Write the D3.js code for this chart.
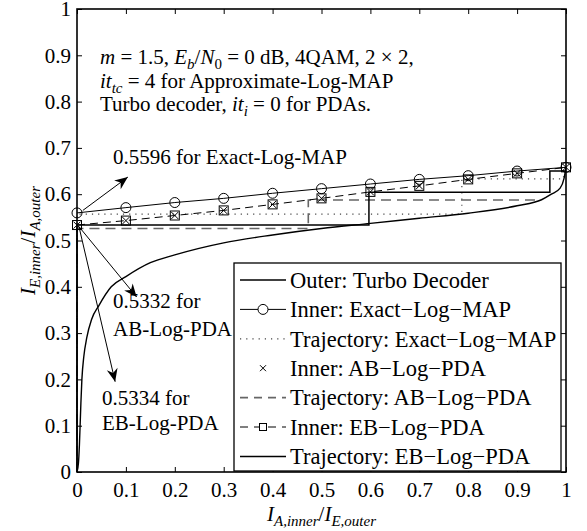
<html><head><meta charset="utf-8">
<script src="https://d3js.org/d3.v7.min.js"></script></head>
<body style="margin:0">
<svg width="587" height="531" id="exit"></svg>
<script>

// ---- data ----
var iaGrid = [0, 0.1, 0.2, 0.3, 0.4, 0.5, 0.6, 0.7, 0.8, 0.9, 1];
var innerExact = [0.5596, 0.571, 0.582, 0.591, 0.602, 0.612, 0.622, 0.632, 0.640, 0.650, 0.658];
var innerAB = [0.5332, 0.543, 0.554, 0.565, 0.578, 0.591, 0.605, 0.618, 0.632, 0.645, 0.658];
var innerEB = [0.5334, 0.543, 0.554, 0.565, 0.578, 0.591, 0.605, 0.618, 0.632, 0.645, 0.658];

// outer (turbo decoder) curve, axes swapped
var outerX = [0, 0.003, 0.005, 0.008, 0.010, 0.014, 0.020, 0.030, 0.045, 0.070, 0.10, 0.15, 0.20, 0.30, 0.40, 0.50, 0.60, 0.70, 0.80, 0.90, 0.95, 0.97, 0.988, 0.996, 1];
var outerY = [0, 0.02, 0.06, 0.15, 0.20, 0.25, 0.29, 0.33, 0.36, 0.40, 0.422, 0.452, 0.469, 0.495, 0.512, 0.526, 0.537, 0.548, 0.559, 0.575, 0.588, 0.600, 0.613, 0.634, 0.658];

// decoding trajectories (staircases)
var trajExactX = [0, 0, 0.787, 0.787, 0.995, 0.995];
var trajExactY = [0, 0.557, 0.557, 0.633, 0.633, 0.657];
var trajABX = [0, 0, 0.473, 0.473, 0.947];
var trajABY = [0, 0.526, 0.526, 0.5875, 0.5875];
var trajEBX = [0, 0, 0.597, 0.597, 0.967, 0.967, 1];
var trajEBY = [0, 0.5335, 0.5335, 0.604, 0.604, 0.650, 0.650];

var xTicks = [0, 0.1, 0.2, 0.3, 0.4, 0.5, 0.6, 0.7, 0.8, 0.9, 1];
var yTicks = [0, 0.1, 0.2, 0.3, 0.4, 0.5, 0.6, 0.7, 0.8, 0.9, 1];

var legendLabels = ["Outer: Turbo Decoder", "Inner: Exact\u2212Log\u2212MAP", "Trajectory: Exact\u2212Log\u2212MAP",
  "Inner: AB\u2212Log\u2212PDA", "Trajectory: AB\u2212Log\u2212PDA", "Inner: EB\u2212Log\u2212PDA", "Trajectory: EB\u2212Log\u2212PDA"];

// ---- layout ----
var FONT = "'Liberation Serif'";
var margin = {left: 77, top: 9, right: 21, bottom: 59};
var width = 587 - margin.left - margin.right,
    height = 531 - margin.top - margin.bottom;

var svg = d3.select("#exit");

var x = d3.scaleLinear().domain([0, 1]).range([margin.left, margin.left + width]);
var y = d3.scaleLinear().domain([0, 1]).range([margin.top + height, margin.top]);

function zip(xs, ys) { return xs.map(function(v, i) { return [v, ys[i]]; }); }

var line = d3.line().x(function(d) { return x(d[0]); }).y(function(d) { return y(d[1]); });
var smooth = d3.line().x(function(d) { return x(d[0]); }).y(function(d) { return y(d[1]); }).curve(d3.curveMonotoneX);

// arrow head (matlab-ish)
svg.append("defs").append("marker")
  .attr("id", "head")
  .attr("viewBox", "-14 -6 16 12")
  .attr("refX", 0).attr("refY", 0)
  .attr("markerWidth", 16).attr("markerHeight", 12)
  .attr("markerUnits", "userSpaceOnUse")
  .attr("orient", "auto")
  .append("path")
  .attr("d", "M0,0 L-13,-5.5 L-9,0 L-13,5.5 Z")
  .attr("fill", "#000");

// ---- trajectories ----
svg.append("path").datum(zip(trajExactX, trajExactY))
  .attr("d", line).attr("fill", "none")
  .attr("stroke", "#444").attr("stroke-width", 1.2).attr("stroke-dasharray", "1.2,5");
svg.append("path").datum(zip(trajABX, trajABY))
  .attr("d", line).attr("fill", "none")
  .attr("stroke", "#666").attr("stroke-width", 1.6).attr("stroke-dasharray", "10,6");
svg.append("path").datum(zip(trajEBX, trajEBY))
  .attr("d", line).attr("fill", "none")
  .attr("stroke", "#000").attr("stroke-width", 1.5);

// ---- outer curve ----
svg.append("path").datum(zip(outerX, outerY))
  .attr("d", smooth).attr("fill", "none")
  .attr("stroke", "#000").attr("stroke-width", 1.4);

// ---- inner curves ----
svg.append("path").datum(zip(iaGrid, innerExact))
  .attr("d", line).attr("fill", "none").attr("stroke", "#000").attr("stroke-width", 1);
svg.selectAll(".circ").data(zip(iaGrid, innerExact)).enter().append("circle")
  .attr("cx", function(d) { return x(d[0]); }).attr("cy", function(d) { return y(d[1]); })
  .attr("r", 5).attr("fill", "none").attr("stroke", "#000").attr("stroke-width", 1);

svg.append("path").datum(zip(iaGrid, innerEB))
  .attr("d", line).attr("fill", "none").attr("stroke", "#000").attr("stroke-width", 1)
  .attr("stroke-dasharray", "8,5");
svg.selectAll(".sq").data(zip(iaGrid, innerEB)).enter().append("rect")
  .attr("x", function(d) { return x(d[0]) - 4.5; }).attr("y", function(d) { return y(d[1]) - 4.5; })
  .attr("width", 9).attr("height", 9).attr("fill", "none").attr("stroke", "#000").attr("stroke-width", 1);

var cross = function(cx, cy, s) { return "M" + (cx - s) + "," + (cy - s) + "L" + (cx + s) + "," + (cy + s) + "M" + (cx - s) + "," + (cy + s) + "L" + (cx + s) + "," + (cy - s); };
svg.selectAll(".xm").data(zip(iaGrid, innerAB)).enter().append("path")
  .attr("d", function(d) { return cross(x(d[0]), y(d[1]), 3.5); })
  .attr("stroke", "#000").attr("stroke-width", 1).attr("fill", "none");

// ---- axes (inward ticks, boxed) ----
var fmt = d3.format("~g");
var gx = svg.append("g").attr("transform", "translate(0," + y(0) + ")")
  .call(d3.axisBottom(x).tickValues(xTicks).tickFormat(fmt).tickSizeInner(-5).tickSizeOuter(0).tickPadding(10));
gx.select(".domain").remove();
gx.attr("font-family", "Liberation Serif").attr("font-size", 21);
gx.selectAll("text").attr("font-family", "Liberation Serif").style("font-family", FONT).style("font-size", "21px");

svg.append("g").attr("transform", "translate(0," + y(1) + ")")
  .call(d3.axisTop(x).tickValues(xTicks).tickFormat("").tickSizeInner(-5).tickSizeOuter(0))
  .call(function(g) { g.select(".domain").remove(); });

var gy = svg.append("g").attr("transform", "translate(" + x(0) + ",0)")
  .call(d3.axisLeft(y).tickValues(yTicks).tickFormat(fmt).tickSizeInner(-5).tickSizeOuter(0).tickPadding(6));
gy.select(".domain").remove();
gy.attr("font-family", "Liberation Serif").attr("font-size", 21);
gy.selectAll("text").attr("font-family", "Liberation Serif").style("font-family", FONT).style("font-size", "21px");

svg.append("g").attr("transform", "translate(" + x(1) + ",0)")
  .call(d3.axisRight(y).tickValues(yTicks).tickFormat("").tickSizeInner(-5).tickSizeOuter(0))
  .call(function(g) { g.select(".domain").remove(); });
svg.selectAll(".tick line").attr("stroke", "#000").attr("stroke-width", 1);

svg.append("rect")
  .attr("x", x(0)).attr("y", y(1)).attr("width", x(1) - x(0)).attr("height", y(0) - y(1))
  .attr("fill", "none").attr("stroke", "#000").attr("stroke-width", 1.6);

// ---- rich text helper (italic + subscripts) ----
function rich(sel, parts, size) {
  parts.forEach(function(p) {
    var t = sel.append("tspan").text(p.t);
    if (p.it) t.style("font-style", "italic");
    if (p.sub) {
      t.style("font-size", Math.round(size * 0.7) + "px").attr("dy", size * 0.25);
      sel.append("tspan").attr("dy", -size * 0.25).text("\u200b");
    }
  });
}
function label(px, py, size) {
  return svg.append("text").attr("x", px).attr("y", py)
    .attr("font-family", "Liberation Serif")
    .style("font-family", FONT).style("font-size", size + "px").attr("fill", "#000");
}

// ---- annotation text ----
var annSize = 21;
rich(label(100, 64, annSize), [{t: "m", it: 1}, {t: " = 1.5, "}, {t: "E", it: 1}, {t: "b", it: 1, sub: 1}, {t: "/"}, {t: "N", it: 1},
  {t: "0", sub: 1}, {t: " = 0 dB, 4QAM, 2 \u00d7 2,"}], annSize);
rich(label(100, 88, annSize), [{t: "it", it: 1}, {t: "tc", it: 1, sub: 1}, {t: " = 4 for Approximate-Log-MAP"}], annSize);
rich(label(100, 111, annSize), [{t: "Turbo decoder, "}, {t: "it", it: 1}, {t: "i", it: 1, sub: 1}, {t: " = 0 for PDAs."}], annSize);

label(113, 164, annSize).text("0.5596 for Exact-Log-MAP");
label(113, 308, annSize).text("0.5332 for");
label(113, 336, annSize).text("AB-Log-PDA");
label(102, 405, annSize).text("0.5334 for");
label(102, 430, annSize).text("EB-Log-PDA");

// arrows (data coordinates: from start value to label)
var arrows = [
  [[0.012, 0.565], [0.104, 0.637]],
  [[0.004, 0.530], [0.122, 0.378]],
  [[0.004, 0.530], [0.078, 0.195]]
];
svg.selectAll(".arrow").data(arrows).enter().append("path")
  .attr("d", line).attr("fill", "none").attr("stroke", "#000").attr("stroke-width", 1)
  .attr("marker-end", "url(#head)");

// ---- axis labels ----
var lblSize = 21;
rich(label((x(0) + x(1)) / 2, 521, lblSize).attr("text-anchor", "middle"),
  [{t: "I", it: 1}, {t: "A,inner", it: 1, sub: 1}, {t: "/"}, {t: "I", it: 1}, {t: "E,outer", it: 1, sub: 1}], lblSize);
rich(label(0, 0, lblSize).attr("transform", "translate(35," + (y(0) + y(1)) / 2 + ") rotate(-90)").attr("text-anchor", "middle"),
  [{t: "I", it: 1}, {t: "E,inner", it: 1, sub: 1}, {t: "/"}, {t: "I", it: 1}, {t: "A,outer", it: 1, sub: 1}], lblSize);

// ---- legend ----
var lg = svg.append("g");
lg.append("rect").attr("x", 234).attr("y", 263).attr("width", 327).attr("height", 208)
  .attr("fill", "#fff").attr("stroke", "#000").attr("stroke-width", 1.3);
var rowY = function(i) { return 280 + i * 29.4; };
var lx0 = 240, lx1 = 286, lxm = 263;
legendLabels.forEach(function(lab, i) {
  lg.append("text").attr("x", 290).attr("y", rowY(i)).attr("dy", "0.35em")
    .attr("font-family", "Liberation Serif")
    .style("font-family", FONT).style("font-size", "22.5px").text(lab);
});
// sample glyphs
lg.append("line").attr("x1", lx0).attr("x2", lx1).attr("y1", rowY(0)).attr("y2", rowY(0)).attr("stroke", "#000").attr("stroke-width", 1.4);
lg.append("line").attr("x1", lx0).attr("x2", lx1).attr("y1", rowY(1)).attr("y2", rowY(1)).attr("stroke", "#000").attr("stroke-width", 1);
lg.append("circle").attr("cx", lxm).attr("cy", rowY(1)).attr("r", 5).attr("fill", "#fff").attr("stroke", "#000");
lg.append("line").attr("x1", lx0).attr("x2", lx1).attr("y1", rowY(2)).attr("y2", rowY(2)).attr("stroke", "#444").attr("stroke-width", 1.2).attr("stroke-dasharray", "1.2,5");
lg.append("path").attr("d", cross(lxm, rowY(3), 3)).attr("stroke", "#000").attr("fill", "none");
lg.append("line").attr("x1", lx0).attr("x2", lx1).attr("y1", rowY(4)).attr("y2", rowY(4)).attr("stroke", "#666").attr("stroke-width", 1.6).attr("stroke-dasharray", "8,6");
lg.append("line").attr("x1", lx0).attr("x2", lx1).attr("y1", rowY(5)).attr("y2", rowY(5)).attr("stroke", "#000").attr("stroke-width", 1).attr("stroke-dasharray", "8,6");
lg.append("rect").attr("x", lxm - 3.5).attr("y", rowY(5) - 3.5).attr("width", 7).attr("height", 7).attr("fill", "#fff").attr("stroke", "#000");
lg.append("line").attr("x1", lx0).attr("x2", lx1).attr("y1", rowY(6)).attr("y2", rowY(6)).attr("stroke", "#000").attr("stroke-width", 1.5);

</script>
</body>
</html>
